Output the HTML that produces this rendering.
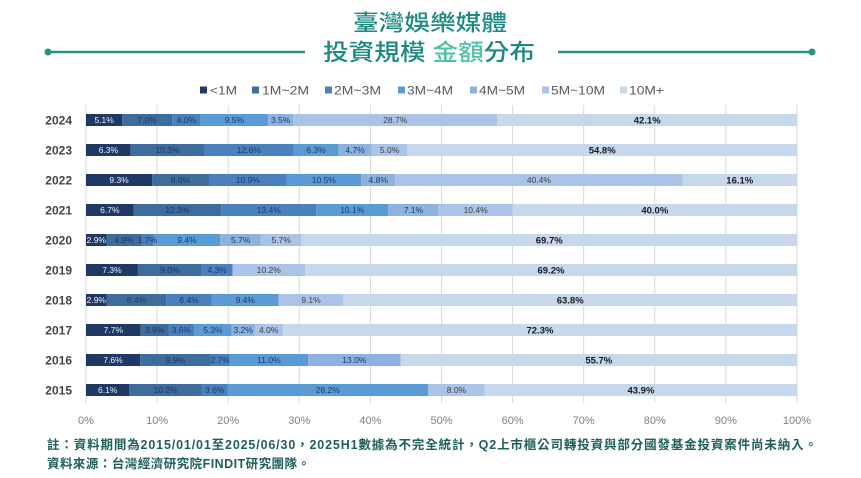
<!DOCTYPE html>
<html><head><meta charset="utf-8"><style>
html,body{margin:0;padding:0;background:#fff;}
svg{display:block;}
.t{font-family:"Liberation Sans","Noto Sans CJK TC",sans-serif;}
.lb{font-family:"Liberation Sans",sans-serif;font-size:8.5px;text-anchor:middle;}
.w{fill:#eef2f8;}
.n{fill:#1f3864;}
.g{fill:#404040;}
.k{font-size:9.5px;font-weight:bold;fill:#1a1a1a;}
.yr{font-family:"Liberation Sans",sans-serif;font-size:12px;font-weight:bold;fill:#444;text-anchor:end;}
.ax{font-family:"Liberation Sans",sans-serif;font-size:11px;fill:#7f7f7f;text-anchor:middle;}
.lg{font-family:"Liberation Sans",sans-serif;font-size:12px;fill:#595959;}
</style></head><body>
<svg width="861" height="478" viewBox="0 0 861 478" xmlns="http://www.w3.org/2000/svg">
<rect width="861" height="478" fill="#fff"/>
<!-- title -->
<text class="t" x="353" y="30.5" font-size="22" font-weight="500" fill="#1b8a83" textLength="154" lengthAdjust="spacingAndGlyphs">臺灣娛樂媒體</text>
<text class="t" x="323" y="60" font-size="23" font-weight="500" fill="#1b8a83" textLength="212" lengthAdjust="spacingAndGlyphs">投資規模 <tspan fill="#4fc1a6">金額</tspan>分布</text>
<line x1="48" y1="52" x2="305" y2="52" stroke="#2a9187" stroke-width="2.5"/>
<line x1="558" y1="52" x2="812" y2="52" stroke="#2a9187" stroke-width="2.5"/>
<circle cx="48" cy="52" r="3.5" fill="#2a9187"/>
<circle cx="812" cy="52" r="3.5" fill="#2a9187"/>
<!-- legend -->
<rect x="200" y="86.5" width="7" height="7" fill="#1f3864"/><text class="lg" x="210" y="94.5" textLength="27" lengthAdjust="spacingAndGlyphs">&lt;1M</text>
<rect x="252" y="86.5" width="7" height="7" fill="#3e6c9c"/><text class="lg" x="262" y="94.5" textLength="47" lengthAdjust="spacingAndGlyphs">1M~2M</text>
<rect x="325" y="86.5" width="7" height="7" fill="#4a80bd"/><text class="lg" x="334" y="94.5" textLength="47" lengthAdjust="spacingAndGlyphs">2M~3M</text>
<rect x="398" y="86.5" width="7" height="7" fill="#5b9bd5"/><text class="lg" x="407" y="94.5" textLength="46" lengthAdjust="spacingAndGlyphs">3M~4M</text>
<rect x="470" y="86.5" width="7" height="7" fill="#8eb2de"/><text class="lg" x="479" y="94.5" textLength="46" lengthAdjust="spacingAndGlyphs">4M~5M</text>
<rect x="542" y="86.5" width="7" height="7" fill="#aac3e6"/><text class="lg" x="551" y="94.5" textLength="54" lengthAdjust="spacingAndGlyphs">5M~10M</text>
<rect x="620" y="86.5" width="7" height="7" fill="#c7d7ec"/><text class="lg" x="629" y="94.5" textLength="35" lengthAdjust="spacingAndGlyphs">10M+</text>
<!-- gridlines -->
<g stroke="#d9d9d9" stroke-width="1">
<line x1="86" y1="105" x2="86" y2="403"/><line x1="157.1" y1="105" x2="157.1" y2="403"/><line x1="228.2" y1="105" x2="228.2" y2="403"/><line x1="299.3" y1="105" x2="299.3" y2="403"/><line x1="370.4" y1="105" x2="370.4" y2="403"/><line x1="441.5" y1="105" x2="441.5" y2="403"/><line x1="512.6" y1="105" x2="512.6" y2="403"/><line x1="583.7" y1="105" x2="583.7" y2="403"/><line x1="654.8" y1="105" x2="654.8" y2="403"/><line x1="725.9" y1="105" x2="725.9" y2="403"/><line x1="797" y1="105" x2="797" y2="403"/>
</g>
<!-- axis labels -->
<text class="ax" x="86" y="424">0%</text><text class="ax" x="157.1" y="424">10%</text><text class="ax" x="228.2" y="424">20%</text><text class="ax" x="299.3" y="424">30%</text><text class="ax" x="370.4" y="424">40%</text><text class="ax" x="441.5" y="424">50%</text><text class="ax" x="512.6" y="424">60%</text><text class="ax" x="583.7" y="424">70%</text><text class="ax" x="654.8" y="424">80%</text><text class="ax" x="725.9" y="424">90%</text><text class="ax" x="797" y="424">100%</text>
<!-- years -->
<text class="yr" x="72" y="124.5">2024</text><text class="yr" x="72" y="154.5">2023</text><text class="yr" x="72" y="184.5">2022</text><text class="yr" x="72" y="214.5">2021</text><text class="yr" x="72" y="244.5">2020</text><text class="yr" x="72" y="274.5">2019</text><text class="yr" x="72" y="304.5">2018</text><text class="yr" x="72" y="334.5">2017</text><text class="yr" x="72" y="364.5">2016</text><text class="yr" x="72" y="394.5">2015</text>
<!-- 2024 -->
<g>
<rect x="86" y="114" width="36.3" height="12" fill="#1f3864"/>
<rect x="122.3" y="114" width="49.82" height="12" fill="#3e6c9c"/>
<rect x="172.12" y="114" width="28.47" height="12" fill="#4a80bd"/>
<rect x="200.59" y="114" width="67.61" height="12" fill="#5b9bd5"/>
<rect x="268.2" y="114" width="24.91" height="12" fill="#8eb2de"/>
<rect x="293.11" y="114" width="204.26" height="12" fill="#aac3e6"/>
<rect x="497.37" y="114" width="299.63" height="12" fill="#c7d7ec"/>
<text class="lb w" x="104.15" y="123">5.1%</text><text class="lb n" x="147.21" y="123">7.0%</text><text class="lb n" x="186.36" y="123">4.0%</text><text class="lb n" x="234.4" y="123">9.5%</text><text class="lb n" x="280.66" y="123">3.5%</text><text class="lb g" x="395.24" y="123">28.7%</text><text class="lb k" x="647.19" y="123.5">42.1%</text>
</g>
<!-- 2023 -->
<g>
<rect x="86" y="144" width="44.79" height="12" fill="#1f3864"/>
<rect x="130.79" y="144" width="73.24" height="12" fill="#3e6c9c"/>
<rect x="204.03" y="144" width="89.58" height="12" fill="#4a80bd"/>
<rect x="293.61" y="144" width="44.8" height="12" fill="#5b9bd5"/>
<rect x="338.41" y="144" width="33.41" height="12" fill="#8eb2de"/>
<rect x="371.82" y="144" width="35.55" height="12" fill="#aac3e6"/>
<rect x="407.37" y="144" width="389.63" height="12" fill="#c7d7ec"/>
<text class="lb w" x="108.4" y="153">6.3%</text><text class="lb n" x="167.41" y="153">10.3%</text><text class="lb n" x="248.82" y="153">12.6%</text><text class="lb n" x="316.01" y="153">6.3%</text><text class="lb n" x="355.12" y="153">4.7%</text><text class="lb g" x="389.6" y="153">5.0%</text><text class="lb k" x="602.19" y="153.5">54.8%</text>
</g>
<!-- 2022 -->
<g>
<rect x="86" y="174" width="66.12" height="12" fill="#1f3864"/>
<rect x="152.12" y="174" width="56.88" height="12" fill="#3e6c9c"/>
<rect x="209" y="174" width="77.5" height="12" fill="#4a80bd"/>
<rect x="286.5" y="174" width="74.66" height="12" fill="#5b9bd5"/>
<rect x="361.16" y="174" width="34.13" height="12" fill="#8eb2de"/>
<rect x="395.29" y="174" width="287.24" height="12" fill="#aac3e6"/>
<rect x="682.53" y="174" width="114.47" height="12" fill="#c7d7ec"/>
<text class="lb w" x="119.06" y="183">9.3%</text><text class="lb n" x="180.56" y="183">8.0%</text><text class="lb n" x="247.75" y="183">10.9%</text><text class="lb n" x="323.83" y="183">10.5%</text><text class="lb n" x="378.23" y="183">4.8%</text><text class="lb g" x="538.91" y="183">40.4%</text><text class="lb k" x="739.77" y="183.5">16.1%</text>
</g>
<!-- 2021 -->
<g>
<rect x="86" y="204" width="47.64" height="12" fill="#1f3864"/>
<rect x="133.64" y="204" width="87.45" height="12" fill="#3e6c9c"/>
<rect x="221.09" y="204" width="95.27" height="12" fill="#4a80bd"/>
<rect x="316.36" y="204" width="71.82" height="12" fill="#5b9bd5"/>
<rect x="388.18" y="204" width="50.48" height="12" fill="#8eb2de"/>
<rect x="438.66" y="204" width="73.94" height="12" fill="#aac3e6"/>
<rect x="512.6" y="204" width="284.4" height="12" fill="#c7d7ec"/>
<text class="lb w" x="109.82" y="213">6.7%</text><text class="lb n" x="177.37" y="213">12.3%</text><text class="lb n" x="268.73" y="213">13.4%</text><text class="lb n" x="352.27" y="213">10.1%</text><text class="lb n" x="413.42" y="213">7.1%</text><text class="lb g" x="475.63" y="213">10.4%</text><text class="lb k" x="654.8" y="213.5">40.0%</text>
</g>
<!-- 2020 -->
<g>
<rect x="86" y="234" width="20.62" height="12" fill="#1f3864"/>
<rect x="106.62" y="234" width="34.84" height="12" fill="#3e6c9c"/>
<rect x="141.46" y="234" width="12.09" height="12" fill="#4a80bd"/>
<rect x="153.55" y="234" width="66.83" height="12" fill="#5b9bd5"/>
<rect x="220.38" y="234" width="40.53" height="12" fill="#8eb2de"/>
<rect x="260.91" y="234" width="40.52" height="12" fill="#aac3e6"/>
<rect x="301.43" y="234" width="495.57" height="12" fill="#c7d7ec"/>
<text class="lb w" x="96.31" y="243">2.9%</text><text class="lb n" x="124.04" y="243">4.9%</text><text class="lb n" x="147.5" y="243">1.7%</text><text class="lb n" x="186.96" y="243">9.4%</text><text class="lb n" x="240.64" y="243">5.7%</text><text class="lb g" x="281.17" y="243">5.7%</text><text class="lb k" x="549.21" y="243.5">69.7%</text>
</g>
<!-- 2019 -->
<g>
<rect x="86" y="264" width="51.9" height="12" fill="#1f3864"/>
<rect x="137.9" y="264" width="63.99" height="12" fill="#3e6c9c"/>
<rect x="201.89" y="264" width="30.58" height="12" fill="#4a80bd"/>
<rect x="232.47" y="264" width="72.52" height="12" fill="#aac3e6"/>
<rect x="304.99" y="264" width="492.01" height="12" fill="#c7d7ec"/>
<text class="lb w" x="111.95" y="273">7.3%</text><text class="lb n" x="169.9" y="273">9.0%</text><text class="lb n" x="217.18" y="273">4.3%</text><text class="lb g" x="268.73" y="273">10.2%</text><text class="lb k" x="550.99" y="273.5">69.2%</text>
</g>
<!-- 2018 -->
<g>
<rect x="86" y="294" width="20.62" height="12" fill="#1f3864"/>
<rect x="106.62" y="294" width="59.72" height="12" fill="#3e6c9c"/>
<rect x="166.34" y="294" width="45.51" height="12" fill="#4a80bd"/>
<rect x="211.85" y="294" width="66.83" height="12" fill="#5b9bd5"/>
<rect x="278.68" y="294" width="64.7" height="12" fill="#aac3e6"/>
<rect x="343.38" y="294" width="453.62" height="12" fill="#c7d7ec"/>
<text class="lb w" x="96.31" y="303">2.9%</text><text class="lb n" x="136.48" y="303">8.4%</text><text class="lb n" x="189.1" y="303">6.4%</text><text class="lb n" x="245.27" y="303">9.4%</text><text class="lb g" x="311.03" y="303">9.1%</text><text class="lb k" x="570.19" y="303.5">63.8%</text>
</g>
<!-- 2017 -->
<g>
<rect x="86" y="324" width="54.75" height="12" fill="#1f3864"/>
<rect x="140.75" y="324" width="27.73" height="12" fill="#3e6c9c"/>
<rect x="168.48" y="324" width="25.59" height="12" fill="#4a80bd"/>
<rect x="194.07" y="324" width="37.69" height="12" fill="#5b9bd5"/>
<rect x="231.76" y="324" width="22.75" height="12" fill="#8eb2de"/>
<rect x="254.51" y="324" width="28.44" height="12" fill="#aac3e6"/>
<rect x="282.95" y="324" width="514.05" height="12" fill="#c7d7ec"/>
<text class="lb w" x="113.37" y="333">7.7%</text><text class="lb n" x="154.61" y="333">3.9%</text><text class="lb n" x="181.27" y="333">3.6%</text><text class="lb n" x="212.91" y="333">5.3%</text><text class="lb n" x="243.13" y="333">3.2%</text><text class="lb g" x="268.73" y="333">4.0%</text><text class="lb k" x="539.97" y="333.5">72.3%</text>
</g>
<!-- 2016 -->
<g>
<rect x="86" y="354" width="54.09" height="12" fill="#1f3864"/>
<rect x="140.09" y="354" width="70.46" height="12" fill="#3e6c9c"/>
<rect x="210.55" y="354" width="19.22" height="12" fill="#4a80bd"/>
<rect x="229.77" y="354" width="78.28" height="12" fill="#5b9bd5"/>
<rect x="308.05" y="354" width="92.53" height="12" fill="#8eb2de"/>
<rect x="400.58" y="354" width="396.42" height="12" fill="#c7d7ec"/>
<text class="lb w" x="113.04" y="363">7.6%</text><text class="lb n" x="175.32" y="363">9.9%</text><text class="lb n" x="220.16" y="363">2.7%</text><text class="lb n" x="268.91" y="363">11.0%</text><text class="lb n" x="354.31" y="363">13.0%</text><text class="lb k" x="598.79" y="363.5">55.7%</text>
</g>
<!-- 2015 -->
<g>
<rect x="86" y="384" width="43.37" height="12" fill="#1f3864"/>
<rect x="129.37" y="384" width="72.52" height="12" fill="#3e6c9c"/>
<rect x="201.89" y="384" width="25.6" height="12" fill="#4a80bd"/>
<rect x="227.49" y="384" width="200.5" height="12" fill="#5b9bd5"/>
<rect x="427.99" y="384" width="56.88" height="12" fill="#aac3e6"/>
<rect x="484.87" y="384" width="312.13" height="12" fill="#c7d7ec"/>
<text class="lb w" x="107.68" y="393">6.1%</text><text class="lb n" x="165.63" y="393">10.2%</text><text class="lb n" x="214.69" y="393">3.6%</text><text class="lb n" x="327.74" y="393">28.2%</text><text class="lb g" x="456.43" y="393">8.0%</text><text class="lb k" x="640.94" y="393.5">43.9%</text>
</g>
<!-- footnotes -->
<text class="t" x="47" y="449" font-size="12.5" font-weight="bold" fill="#1e5f5c" textLength="770" lengthAdjust="spacing">註：資料期間為2015/01/01至2025/06/30，2025H1數據為不完全統計，Q2上市櫃公司轉投資與部分國發基金投資案件尚未納入。</text>
<text class="t" x="47" y="468" font-size="12.5" font-weight="bold" fill="#1e5f5c" textLength="263" lengthAdjust="spacing">資料來源：台灣經濟研究院FINDIT研究團隊。</text>
</svg>
</body></html>
